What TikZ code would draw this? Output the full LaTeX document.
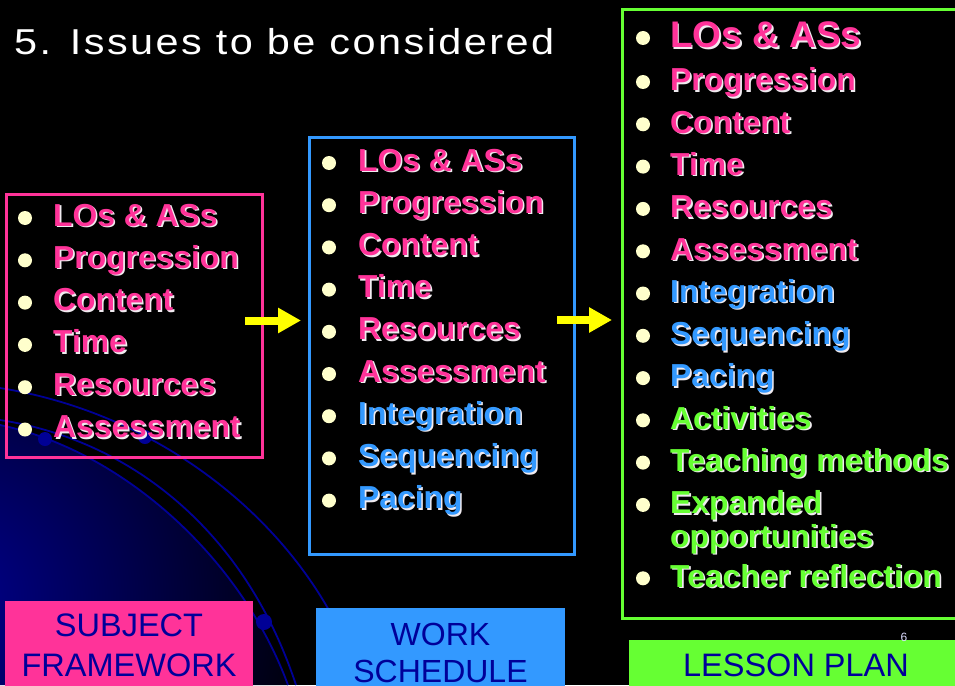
\documentclass[tikz,border=0pt]{standalone}
\usepackage{fontspec}
\setmainfont{Liberation Sans}
\newfontfamily\titlefont[LetterSpace=6]{Liberation Sans}
\usetikzlibrary{arrows.meta}
\definecolor{pinkc}{RGB}{255,51,153}
\definecolor{bluec}{RGB}{51,153,255}
\definecolor{greenc}{RGB}{102,255,51}
\definecolor{navyc}{RGB}{0,0,153}
\definecolor{creamc}{RGB}{255,255,204}
\definecolor{shadc}{RGB}{240,235,240}
\definecolor{curvec}{RGB}{0,0,150}
\definecolor{glowc}{RGB}{0,0,140}
\definecolor{yellc}{RGB}{255,255,0}
\definecolor{pgnumc}{RGB}{220,220,255}
\newcommand\shtext[2]{\makebox[0pt][l]{\hspace{1.6pt}\raisebox{-1.6pt}{\color{shadc}#2}}{\color{#1}#2}}
\tikzset{
 listbox/.style={draw=#1, line width=3pt, inner sep=0pt, anchor=north west},
 labbox/.style={fill=#1, inner sep=0pt, anchor=north west},
 listitem/.style={anchor=base west, inner sep=0pt, font=\bfseries\fontsize{31.8}{33.5}\selectfont},
 bigitem/.style={listitem, font=\bfseries\fontsize{37}{37}\selectfont},
 bulletdot/.style={circle, fill=creamc, inner sep=0pt, minimum size=14pt},
 labtext/.style={anchor=base, inner sep=0pt, text=navyc, font=\fontsize{32.5}{40}\selectfont},
 yarrow/.style={draw=yellc, line width=8pt, -{Triangle[length=23pt,width=24pt]}},
 deco/.style={draw=curvec, line width=1.8pt},
 decoball/.style={circle, fill=curvec, inner sep=0pt, minimum size=#1},
}
\begin{document}
\begin{tikzpicture}[x=1pt,y=-1pt]
\useasboundingbox (0,0) rectangle (955,685);
\clip (0,0) rectangle (955,685);
\fill[black] (0,0) rectangle (955,685);
% background glow and decorative curves
\begin{scope}
\clip (0,425) .. controls (120,450) and (240,555) .. (288,685) -- (0,685) -- cycle;
\shade[inner color=glowc, outer color=black] (-50,600) circle (390pt);
\end{scope}
\draw[deco] (0,388) .. controls (150,412) and (270,505) .. (330,612);
\draw[deco] (0,420) .. controls (130,440) and (245,530) .. (296,685);
\draw[deco] (0,425) .. controls (120,450) and (240,555) .. (288,685);
\node[decoball=14pt] (ball1) at (45,439) {};
\node[decoball=14pt] (ball2) at (145,437) {};
\node[decoball=16pt] (ball3) at (264,622) {};
% title
\node[anchor=base west, inner sep=0pt, text=white, xscale=1.15, font=\titlefont\fontsize{36}{36}\selectfont] (title) at (14,55) {5. Issues to be considered};
% boxes
\node[listbox=pinkc, minimum width=256pt, minimum height=263pt] (sfbox) at (5,193) {};
\node[listbox=bluec, minimum width=265pt, minimum height=416.5pt] (wsbox) at (308,136) {};
\node[listbox=greenc, minimum width=420pt, minimum height=608.5pt] (lpbox) at (620.5,8) {};
% left list
\foreach \t [count=\i] in {LOs \& ASs, Progression, Content, Time, Resources, Assessment} {
  \pgfmathsetmacro\yb{226+42.3*(\i-1)}
  \node[bulletdot] (sfb\i) at (25,\yb-8) {};
  \node[listitem] (sf\i) at (53,\yb) {\shtext{pinkc}{\t}};
}
% middle list
\foreach \t/\c [count=\i] in {LOs \& ASs/pinkc, Progression/pinkc, Content/pinkc, Time/pinkc, Resources/pinkc, Assessment/pinkc, Integration/bluec, Sequencing/bluec, Pacing/bluec} {
  \pgfmathsetmacro\yb{171+42.2*(\i-1)}
  \node[bulletdot] (wsb\i) at (329,\yb-8) {};
  \node[listitem] (ws\i) at (358,\yb) {\shtext{\c}{\t}};
}
% right list
\node[bulletdot] (lpb1) at (643,38) {};
\node[bigitem] (lp1) at (670,48) {\shtext{pinkc}{LOs \& ASs}};
\foreach \t/\c/\yb [count=\i from 2] in {Progression/pinkc/90.7, Content/pinkc/133, Time/pinkc/175.3, Resources/pinkc/217.6, Assessment/pinkc/260, Integration/bluec/302.2, Sequencing/bluec/344.5, Pacing/bluec/386.8, Activities/greenc/429, Teaching methods/greenc/471.3, Teacher reflection/greenc/587} {
  \node[bulletdot] (lpb\i) at (643,\yb-8.7) {};
  \node[listitem] (lp\i) at (670,\yb) {\shtext{\c}{\t}};
}
\node[bulletdot] (lpb13) at (643,513.6-8.7) {};
\node[listitem] (lp13) at (670,513.6) {\begin{tabular}[t]{@{}l@{}}\shtext{greenc}{Expanded}\\\shtext{greenc}{opportunities}\end{tabular}};
% arrows
\coordinate (a1s) at (245,320.5);
\coordinate (a1e) at (301,320.5);
\coordinate (a2s) at (557,320);
\coordinate (a2e) at (612,320);
\draw[yarrow] (a1s) -- (a1e);
\draw[yarrow] (a2s) -- (a2e);
% bottom labels
\node[labbox=pinkc, minimum width=248pt, minimum height=90pt] (sflab) at (5,601) {};
\node[labbox=bluec, minimum width=249pt, minimum height=90pt] (wslab) at (316,608) {};
\node[labbox=greenc, minimum width=340pt, minimum height=60pt] (lplab) at (629,640) {};
\node[labtext] (sftxt) at (129,676.7) {\begin{tabular}[b]{@{}c@{}}SUBJECT\\FRAMEWORK\end{tabular}};
\node[labtext, font=\fontsize{32}{37}\selectfont] (wstxt) at (440.5,645) {\begin{tabular}[t]{@{}c@{}}WORK\\SCHEDULE\end{tabular}};
\node[labtext] (lptxt) at (796,676.7) {LESSON PLAN};
\node[anchor=base, inner sep=0pt, text=pgnumc, font=\fontsize{12}{12}\selectfont] (pgnum) at (904,641) {6};
\end{tikzpicture}
\end{document}
